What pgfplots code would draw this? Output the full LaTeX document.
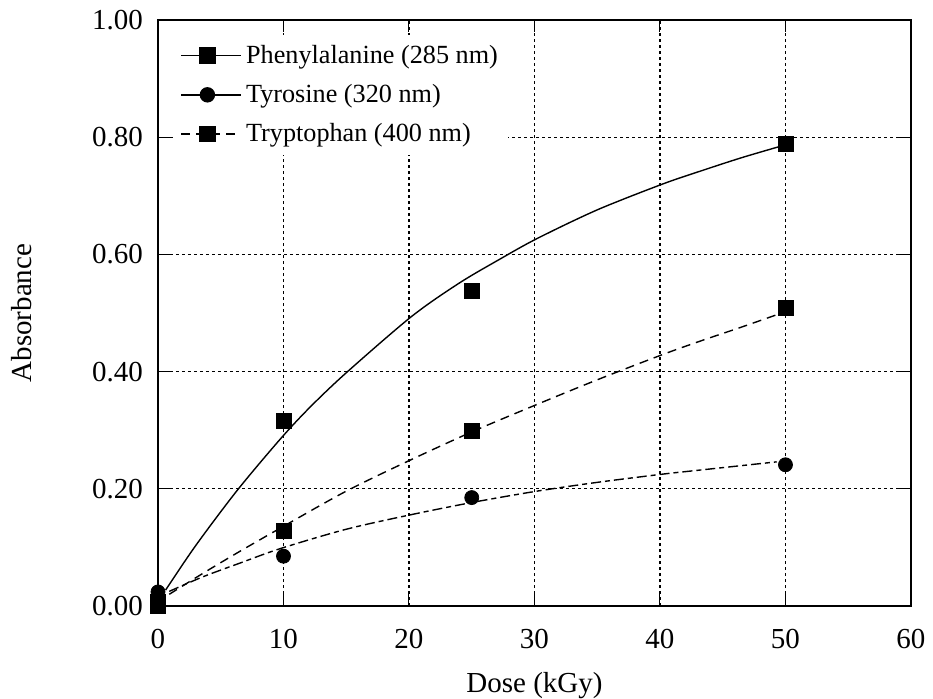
\documentclass[border=0pt]{standalone}
\usepackage{pgfplots}
\pgfplotsset{compat=1.18}
\usepackage{fontspec}
\setmainfont{Liberation Serif}
\begin{document}
\begin{tikzpicture}
\begin{axis}[
  name=ax, at={(0,0)}, anchor=south west,
  scale only axis, width=376.5pt, height=293pt,
  xmin=0, xmax=60, ymin=0, ymax=1,
  xtick={0,10,...,60}, ytick={0,0.2,...,1.0},
  yticklabel style={/pgf/number format/fixed, /pgf/number format/fixed zerofill, /pgf/number format/precision=2, xshift=-4pt},
  /pgf/number format/assume math mode=true,
  tick label style={font=\fontsize{14.5}{17}\selectfont},
  label style={font=\fontsize{14.5}{17}\selectfont},
  xticklabel style={yshift=-8pt},
  xlabel={Dose (kGy)}, ylabel={Absorbance},
  xlabel style={at={(axis description cs:0.5,0)}, anchor=center, yshift=-40pt},
  ylabel style={at={(axis description cs:-0.1806,0.5)}, anchor=center},
  grid=major,
  major grid style={black, line width=0.55pt, dash pattern=on 1.5pt off 1.5pt},
  tick align=inside, major tick length=6pt, tick style={black, line width=0.5pt},
  axis line style={black, line width=0.6pt},
  clip=false,
  legend style={at={(axis cs:1.3,0.975)}, anchor=north west, draw=none, fill=white,
    font=\fontsize{13.1}{16}\selectfont, row sep=5pt, inner sep=3pt},
  legend cell align=left,
  legend image code/.code={\path (0pt,0pt) -- (30pt,0pt); \draw[#1] (0pt,0pt) -- (26pt,0pt); \draw[#1, solid] plot coordinates {(13pt,0pt)};},
]
% fitted curves
\addplot[black, line width=0.7pt, smooth, forget plot] coordinates {
 (0.6,0.027) (3,0.103) (6.3,0.197) (9.75,0.285) (12.1,0.339) (15,0.398) (20.2,0.494)
 (24,0.551) (27.25,0.592) (30.2,0.627) (35,0.676) (40.2,0.72) (43.2,0.742) (46.5,0.765) (50,0.787)};
\addplot[black, line width=0.7pt, smooth, dash pattern=on 5pt off 2pt on 2.5pt off 2pt, forget plot] coordinates {
 (0.9,0.025) (3.6,0.05) (6.5,0.073) (9.75,0.098) (15,0.131) (20.2,0.156) (25.1,0.177)
 (30.2,0.196) (35,0.211) (40.2,0.225) (43.2,0.232) (49.3,0.246)};
\addplot[black, line width=0.7pt, smooth, dash pattern=on 4.5pt off 3pt, forget plot] coordinates {
 (0.9,0.02) (3.6,0.056) (6.5,0.093) (10,0.136) (15,0.196) (20.2,0.25) (25.1,0.298)
 (30.2,0.344) (35,0.386) (40.2,0.429) (43.2,0.452) (46.5,0.476) (49.3,0.497)};
% markers
\addplot[only marks, mark=square*, mark size=3.75pt, black, forget plot] coordinates {
 (0,0.0) (10,0.316) (25,0.537) (50,0.788)};
\addplot[only marks, mark=*, mark size=3.5pt, black, forget plot] coordinates {
 (0,0.024) (10,0.085) (25,0.185) (50,0.241)};
\addplot[only marks, mark=square*, mark size=3.75pt, black, forget plot] coordinates {
 (0,0.007) (10,0.129) (25,0.299) (50,0.509)};
\addlegendimage{black, line width=0.7pt, mark=square*, mark size=3.75pt}
\addlegendentry{Phenylalanine (285 nm)}
\addlegendimage{black, line width=0.7pt, mark=*, mark size=3.5pt}
\addlegendentry{Tyrosine (320 nm)}
\addlegendimage{black, line width=0.7pt, dash pattern=on 4.5pt off 3pt, mark=square*, mark size=3.75pt, mark options={solid}}
\addlegendentry{Tryptophan (400 nm)}
\end{axis}
\pgfresetboundingbox
\useasboundingbox (-79pt,-46pt) rectangle (387.5pt,303pt);
\end{tikzpicture}
\end{document}
